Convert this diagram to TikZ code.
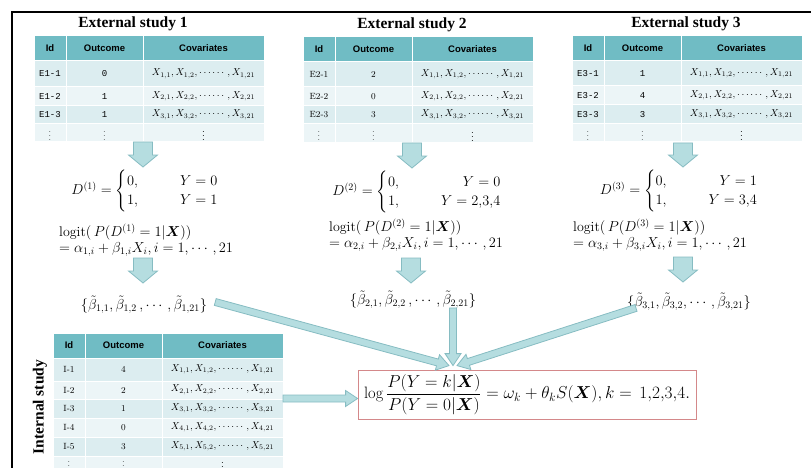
\documentclass[tikz,border=0pt]{standalone}
\usepackage{amsmath,amssymb}
\usepackage{fontspec}
\newfontfamily\titlefont{Liberation Serif}
\newfontfamily\hdrfont{Liberation Sans}
\newfontfamily\idfont{Liberation Mono}
\usepackage{tikz}
\usetikzlibrary{calc}

\definecolor{hdrteal}{HTML}{70BCC4}
\definecolor{rowA}{HTML}{DCEDF0}
\definecolor{rowB}{HTML}{ECF5F7}
\definecolor{arrowfill}{HTML}{B5DDE0}
\definecolor{arrowline}{HTML}{86BCC2}
\definecolor{boxred}{HTML}{D4888A}

\tikzset{
  cell/.style={draw=white, line width=1pt, inner sep=0pt, outer sep=0pt, anchor=north west},
  hdr/.style={cell, fill=hdrteal, minimum height=25pt, font=\hdrfont\bfseries\fontsize{9.5}{11}\selectfont},
  title/.style={font=\titlefont\bfseries\fontsize{15.5}{17}\selectfont},
  eq/.style={font=\fontsize{14}{16}\selectfont, inner sep=1pt},
  blockarrow/.style={fill=arrowfill, draw=arrowline, line width=0.8pt, line join=miter},
}

% table header: name, x, y
\newcommand\tablehead[3]{%
  \node[hdr, minimum width=32pt] (#1-h1) at (#2,#3) {Id};
  \node[hdr, minimum width=77pt] (#1-h2) at (#1-h1.north east) {Outcome};
  \node[hdr, minimum width=121pt] (#1-h3) at (#1-h2.north east) {Covariates};
}
% table row: name, x, y, height, fill, id, outcome, covariates
\newcommand\tablerow[8]{%
  \node[cell, fill=#5, minimum width=32pt, minimum height=#4pt, font=\fontsize{9}{11}\selectfont] (#1-id) at (#2,#3) {#6};
  \node[cell, fill=#5, minimum width=77pt, minimum height=#4pt, font=\fontsize{9}{11}\selectfont] (#1-out) at (#1-id.north east) {#7};
  \node[cell, fill=#5, minimum width=121pt, minimum height=#4pt, font=\fontsize{10}{11}\selectfont] (#1-cov) at (#1-out.north east) {#8};
}
\newcommand\covs[1]{$X_{#1,1},X_{#1,2},\cdots\cdots,X_{#1,21}$}
% block arrow: from, to, shaft half width, head half width, head length
\newcommand\fatarrow[5]{%
  \coordinate (fa-c) at ($(#2)!#5!(#1)$);
  \path[blockarrow] ($(#1)!#3!90:(#2)$) -- ($(fa-c)!#3!-90:(#1)$) -- ($(fa-c)!#4!-90:(#1)$)
    -- (#2) -- ($(fa-c)!#4!90:(#1)$) -- ($(fa-c)!#3!90:(#1)$) -- ($(#1)!#3!-90:(#2)$) -- cycle;
}

\begin{document}
\begin{tikzpicture}[x=1pt,y=-1pt]
\useasboundingbox (0,0) rectangle (811,468);
\draw[line width=1.5pt] (12,468) -- (12,12) -- (811,12);

% external studies
\node[title] (title1) at (133,24) {External study 1};
\node[title] (title2) at (412,25) {External study 2};
\node[title] (title3) at (686,24) {External study 3};

\tablehead{t1}{34}{36}
\foreach \i/\o/\yt/\h/\c in {1/0/61/26/rowA, 2/1/87/19/rowB, 3/1/106/18/rowA}
  {\tablerow{t1-r\i}{34}{\yt}{\h}{\c}{\idfont E1-\i}{\idfont\o}{\covs{\i}}}
\tablerow{t1-r4}{34}{124}{18}{rowB}{$\vdots$}{$\vdots$}{$\vdots$}

\tablehead{t2}{303}{37}
\foreach \i/\o/\yt/\h/\c in {1/2/62/25/rowA, 2/0/87/19/rowB, 3/3/106/18/rowA}
  {\tablerow{t2-r\i}{303}{\yt}{\h}{\c}{E2-\i}{\o}{\covs{\i}}}
\tablerow{t2-r4}{303}{124}{19}{rowB}{$\vdots$}{$\vdots$}{$\vdots$}

\tablehead{t3}{572}{36}
\foreach \i/\o/\yt/\h/\c in {1/1/61/25/rowA, 2/4/86/19/rowB, 3/3/105/19/rowA}
  {\tablerow{t3-r\i}{572}{\yt}{\h}{\c}{\idfont E3-\i}{\idfont\o}{\covs{\i}}}
\tablerow{t3-r4}{572}{124}{18}{rowB}{$\vdots$}{$\vdots$}{$\vdots$}

% dichotomised outcomes
\node[eq] (d1) at (145,191) {$D^{(1)}=\begin{cases}0, & \qquad Y=0\\ 1, & \qquad Y=1\end{cases}$};
\node[eq] (d2) at (417,192) {$D^{(2)}=\begin{cases}0, & \qquad\hfill Y=0\\ 1, & \qquad Y=2{,}3{,}4\end{cases}$};
\node[eq] (d3) at (679,191) {$D^{(3)}=\begin{cases}0, & \qquad\hfill Y=1\\ 1, & \qquad Y=3{,}4\end{cases}$};

\node[eq, anchor=west, align=left] (lg1) at (58,240) {$\mathrm{logit}(\,P(D^{(1)}=1|\boldsymbol{X}))$\\$=\alpha_{1,i}+\beta_{1,i}X_i, i=1,\cdots,21$};
\node[eq, anchor=west, align=left] (lg2) at (328,235) {$\mathrm{logit}(\,P(D^{(2)}=1|\boldsymbol{X}))$\\$=\alpha_{2,i}+\beta_{2,i}X_i, i=1,\cdots,21$};
\node[eq, anchor=west, align=left] (lg3) at (572,235) {$\mathrm{logit}(\,P(D^{(3)}=1|\boldsymbol{X}))$\\$=\alpha_{3,i}+\beta_{3,i}X_i, i=1,\cdots,21$};

\node[eq] (b1) at (144,305) {$\{\tilde\beta_{1,1},\tilde\beta_{1,2}\,,\cdots,\tilde\beta_{1,21}\}$};
\node[eq] (b2) at (413,300) {$\{\tilde\beta_{2,1},\tilde\beta_{2,2}\,,\cdots,\tilde\beta_{2,21}\}$};
\node[eq] (b3) at (689,302) {$\{\tilde\beta_{3,1},\tilde\beta_{3,2},\cdots,\tilde\beta_{3,21}\}$};

% internal study
\node[title, rotate=90] (intlabel) at (40,407) {Internal study};
\tablehead{ti}{53}{333}
\foreach \i/\o/\yt/\h/\c in {1/4/358/23/rowA, 2/2/381/18/rowB, 3/1/399/19/rowA, 4/0/418/19/rowB, 5/3/437/19/rowA}
  {\tablerow{ti-r\i}{53}{\yt}{\h}{\c}{I-\i}{\o}{\covs{\i}}}
\tablerow{ti-r6}{53}{456}{11}{rowB}{$\vdots$}{$\vdots$}{$\vdots$}

% model
\node[draw=boxred, line width=0.8pt, minimum width=338pt, minimum height=49pt, inner sep=0pt,
  font=\fontsize{16.5}{19}\selectfont] (model) at (527,394.5)
  {$\displaystyle\log\frac{P(Y=k|\boldsymbol{X})}{P(Y=0|\boldsymbol{X})}=\omega_k+\theta_kS(\boldsymbol{X}),k=\,1{,}2{,}3{,}4.$};

% arrows
\coordinate (a1s) at (143,142); \coordinate (a1e) at (143,167);
\coordinate (a2s) at (412,143); \coordinate (a2e) at (412,168);
\coordinate (a3s) at (683,143); \coordinate (a3e) at (683,167);
\coordinate (c1s) at (143,258); \coordinate (c1e) at (143,283);
\coordinate (c2s) at (411,258); \coordinate (c2e) at (411,283);
\coordinate (c3s) at (683,257); \coordinate (c3e) at (683,282);
\foreach \a in {a1,a2,a3,c1,c2,c3}
  {\fatarrow{\a s}{\a e}{9.5pt}{14.5pt}{12pt}}

\coordinate (m1s) at ($(b1.east)+(7,-3)$);
\coordinate (m2s) at ($(b2.south)+(40,-2)$);
\coordinate (m3s) at ($(b3.south west)+(10,-4)$);
\coordinate (m1e) at ($(model.north)+(-78,-4)$);
\coordinate (m2e) at ($(model.north)+(-74,-4)$);
\coordinate (m3e) at ($(model.north)+(-70,-4)$);
\coordinate (m4e) at ($(model.west)+(0,4)$);
\coordinate (m4s) at (m4e -| ti-h3.east);
\foreach \m in {m1,m2,m3,m4}
  {\fatarrow{\m s}{\m e}{3.5pt}{8pt}{12pt}}
\end{tikzpicture}
\end{document}
